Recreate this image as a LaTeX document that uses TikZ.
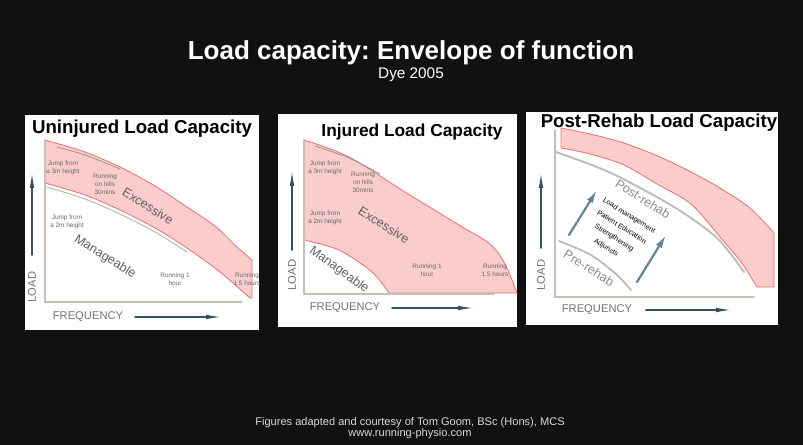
\documentclass[tikz,border=0pt]{standalone}
\usepackage{fontspec}
\setmainfont{Liberation Sans}
\usetikzlibrary{arrows.meta}
\frenchspacing

\definecolor{slide}{RGB}{17,17,17}
\definecolor{bandfill}{RGB}{250,204,204}
\definecolor{bandline}{RGB}{232,112,112}
\definecolor{axisgray}{RGB}{196,194,182}
\definecolor{arrowgray}{RGB}{55,82,92}
\definecolor{labelgray}{RGB}{105,105,105}
\definecolor{curvegray}{RGB}{192,187,182}
\definecolor{pushblue}{RGB}{100,130,150}

\begin{document}
\begin{tikzpicture}[x=0.75pt,y=-0.75pt,line cap=round,
  band/.style={fill=bandfill,draw=bandline,line width=0.6pt},
  axisline/.style={draw=axisgray,line width=1.1pt},
  uparrow/.style={arrowgray,line width=1.2pt,-{Latex[length=12pt,width=3.5pt]}},
  pusharrow/.style={pushblue,line width=1.6pt,-{Latex[length=10pt,width=5pt]}},
  tiny/.style={font=\fontsize{4.8}{6}\selectfont,text=labelgray,align=center,inner sep=0pt},
  zone/.style={font=\fontsize{9.5}{10}\selectfont,text=black!62,inner sep=0pt,rotate=-32},
  axislabel/.style={font=\fontsize{8.4}{9}\selectfont,text=black!55,inner sep=0pt},
  paneltitle/.style={font=\bfseries\fontsize{14}{16}\selectfont,inner sep=0pt},
  steplist/.style={font=\fontsize{5.4}{6}\selectfont,inner sep=0pt,rotate=-32}]
\useasboundingbox (0,0) rectangle (803,445);
\fill[slide] (0,0) rectangle (803,445);

% heading
\node[white,font=\bfseries\fontsize{19.5}{22}\selectfont] (title) at (411,53) {Load capacity: Envelope of function};
\node[white,font=\fontsize{11.5}{13}\selectfont] (ref) at (411,75) {Dye 2005};

% panel 1: uninjured
\fill[white] (25,115) rectangle (259,330);
\node[paneltitle] (t1) at (142,129) {Uninjured Load Capacity};
\draw[band] plot[smooth] coordinates {(45,140) (85,152) (120,167) (155,186) (187,207) (215,226) (237,247) (252,260)}
  -- (252,298) -- plot[smooth] coordinates {(250,298) (220,272) (187,248) (155,228) (120,210) (85,195) (45,183)} -- cycle;
\draw[curvegray,line width=0.8pt] plot[smooth] coordinates {(47,187) (85,199) (120,214) (155,232) (187,252)};
\draw[black!45,line width=0.5pt] plot[smooth] coordinates {(57,147) (85,155) (120,169)};
\draw[axisline] (45,140) -- (45,302) -- (242,302);
\draw[uparrow] (32,255) -- (32,172);
\node[axislabel,rotate=90] (load1) at (32,287) {LOAD};
\node[axislabel] (freq1) at (88,317) {FREQUENCY};
\draw[uparrow] (135,317) -- (222,317);
\node[tiny] (jump3a) at (63,168) {Jump from\\a 3m height};
\node[tiny] (hills1) at (105,184) {Running\\on hills\\30mins};
\node[zone] (exc1) at (148,206) {Excessive};
\node[tiny] (jump2a) at (67,222) {Jump from\\a 2m height};
\node[zone] (man1) at (105,257) {Manageable};
\node[tiny] (run1a) at (175,279) {Running 1\\hour};
\node[tiny] (run15a) at (247,279) {Running\\1.5 hours};

% panel 2: injured
\fill[white] (278,114) rectangle (517,327);
\node[paneltitle,font=\bfseries\fontsize{13}{15}\selectfont] (t2) at (412,132) {Injured Load Capacity};
\draw[band] plot[smooth,tension=0.55] coordinates {(304,140) (349,157) (405,192) (459,225) (490,244) (505,264) (517,293)}
  -- (389,293) -- plot[smooth] coordinates {(389,293) (372,272) (339,250) (304,240)} -- cycle;
\draw[black!45,line width=0.5pt] plot[smooth] coordinates {(315,146) (349,158) (380,174)};
\draw[axisline] (304,140) -- (304,294) -- (494,294);
\draw[uparrow] (292,250) -- (292,170);
\node[axislabel,rotate=90] (load2) at (292,275) {LOAD};
\node[axislabel] (freq2) at (345,308) {FREQUENCY};
\draw[uparrow] (392,308) -- (474,308);
\node[tiny] (jump3b) at (325,168) {Jump from\\a 3m height};
\node[tiny] (hills2) at (363,182) {Running\\on hills\\30mins};
\node[tiny] (jump2b) at (325,218) {Jump from\\a 2m height};
\node[zone] (exc2) at (384,225) {Excessive};
\node[zone,rotate=-4] (man2) at (339,270) {Manageable};
\node[tiny] (run1b) at (427,270) {Running 1\\hour};
\node[tiny] (run15b) at (495,270) {Running\\1.5 hours};

% panel 3: post-rehab
\fill[white] (526,112) rectangle (778,325);
\draw[band] plot[smooth] coordinates {(561,128) (590,134) (624,143) (660,157) (691,172) (720,188) (750,208) (774,233)}
  -- (774,287) -- (757,287) -- plot[smooth] coordinates {(757,287) (741,262) (720,237) (691,204) (657,184) (624,165) (590,154) (561,148)} -- cycle;
\node[paneltitle] (t3) at (659,123) {Post-Rehab Load Capacity};
\draw[axisline] (555,130) -- (555,297) -- (754,297);
\draw[curvegray,line width=1.4pt] plot[smooth] coordinates {(556,152) (611,173) (674,207) (717,238) (744,272)};
\draw[curvegray,line width=1.4pt] plot[smooth] coordinates {(559,241) (591,255) (617,275) (631,290)};
\node[zone,text=black!45] (post) at (643,199) {Post-rehab};
\node[zone,text=black!45] (pre) at (589,268) {Pre-rehab};
\draw[pusharrow] (569,235) -- (597,190);
\draw[pusharrow] (637,282) -- (666,235);
\node[steplist] (lm) at (629,216) {Load management};
\node[steplist] (pe) at (622,227) {Patient Education};
\node[steplist] (st) at (614,238) {Strengthening};
\node[steplist] (ad) at (606,248) {Adjuncts};
\draw[uparrow] (541,248) -- (541,172);
\node[axislabel,rotate=90] (load3) at (541,275) {LOAD};
\node[axislabel] (freq3) at (597,310) {FREQUENCY};
\draw[uparrow] (646,310) -- (732,310);

% credits
\node[black!15,font=\fontsize{8.3}{9}\selectfont] (credit) at (410,423) {Figures adapted and courtesy of Tom Goom, BSc (Hons), MCS};
\node[black!15,font=\fontsize{8.3}{9}\selectfont] (site) at (410,434) {www.running-physio.com};
\end{tikzpicture}
\end{document}
